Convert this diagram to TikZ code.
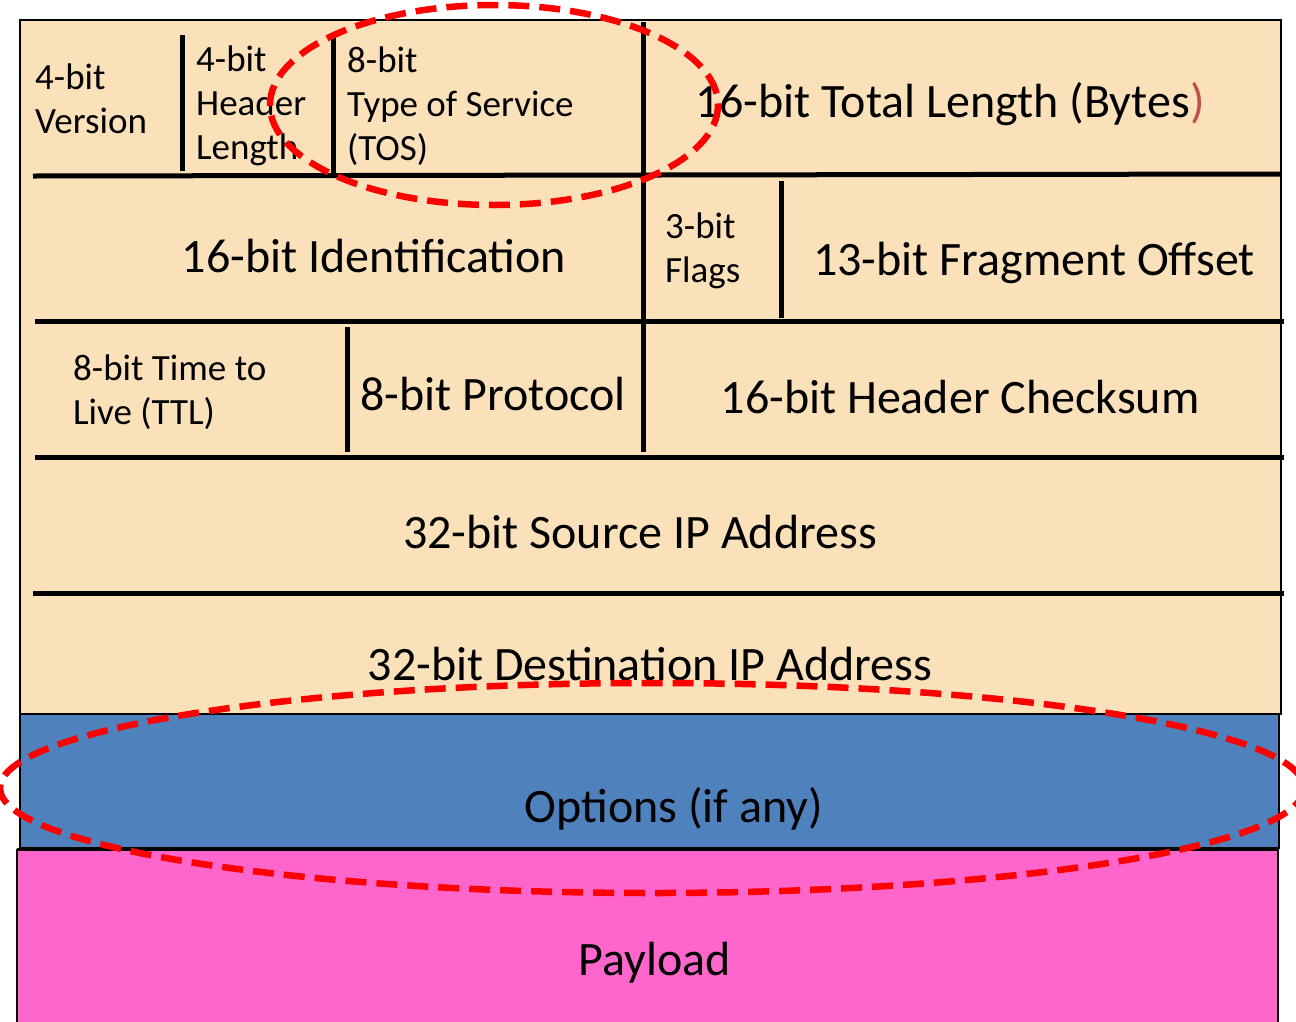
\documentclass[tikz,border=0pt]{standalone}
\usepackage{fontspec}
\setmainfont{Carlito}
\begin{document}
\begin{tikzpicture}[x=1pt,y=-1pt,
  big/.style={font=\fontsize{48}{58}\selectfont, inner sep=0pt},
  small/.style={font=\fontsize{37}{44}\selectfont, inner sep=0pt, align=left},
  rule/.style={line width=5pt, black},
  frame/.style={line width=2pt, black},
  hilite/.style={draw=red, line width=6.5pt, dash pattern=on 21pt off 10pt}]
\definecolor{peach}{HTML}{FBE1B9}
\definecolor{optblue}{HTML}{4F81BD}
\definecolor{paypink}{HTML}{FF66CC}
\definecolor{dimred}{HTML}{C0504D}
\useasboundingbox (0,0) rectangle (1296,1021);
% fields
\fill[peach] (20,20) rectangle (1281,714);
\draw[frame] (20,20) rectangle (1281,714);
\fill[optblue] (20,714) rectangle (1279,848);
\draw[frame] (20,714) rectangle (1279,848);
\fill[paypink] (17,850) rectangle (1278,1025);
\draw[frame] (17,1025) -- (17,850) -- (1278,850) -- (1278,1025);
\draw[line width=3pt] (17,849) -- (1279,849);
% row rules
\draw[rule] (33,176) -- (1281,174);
\draw[rule] (35,321) -- (1284,321);
\draw[rule] (35,457) -- (1284,457);
\draw[rule] (33,593) -- (1284,593);
% column rules
\draw[rule] (182,35) -- (182,171);
\draw[rule] (333,35) -- (333,176);
\draw[rule] (643,22) -- (643,452);
\draw[rule] (781,181) -- (781,318);
\draw[rule] (347,327) -- (347,452);
% texts (base anchor = baseline of last line)
\node[small, anchor=base west] (ver) at (35,133) {4-bit\\Version};
\node[small, anchor=base west] (hl) at (196,159) {4-bit\\Header\\Length};
\node[small, anchor=base west] (tos) at (347,160) {8-bit\\Type of Service\\(TOS)};
\node[big, anchor=base] (tl) at (950,117) {16-bit Total Length (Bytes\textcolor{dimred}{)}};
\node[big, anchor=base] (id) at (374,272) {16-bit Identification};
\node[small, anchor=base west] (fl) at (665,282) {3-bit\\Flags};
\node[big, anchor=base] (fo) at (1034,275) {13-bit Fragment Offset};
\node[small, anchor=base west] (ttl) at (73,424) {8-bit Time to\\Live (TTL)};
\node[big, anchor=base] (pr) at (493,410) {8-bit Protocol};
\node[big, anchor=base] (cs) at (960,413) {16-bit Header Checksum};
\node[big, anchor=base] (src) at (640,548) {32-bit Source IP Address};
\node[big, anchor=base] (dst) at (650,680) {32-bit Destination IP Address};
\node[big, anchor=base] (opt) at (674,822) {Options (if any)};
\node[big, anchor=base] (pay) at (655,975) {Payload};
% highlight ellipses
\draw[hilite] (494,105) ellipse [x radius=224, y radius=100];
\draw[hilite] (652,788) ellipse [x radius=652, y radius=105];
\end{tikzpicture}
\end{document}
